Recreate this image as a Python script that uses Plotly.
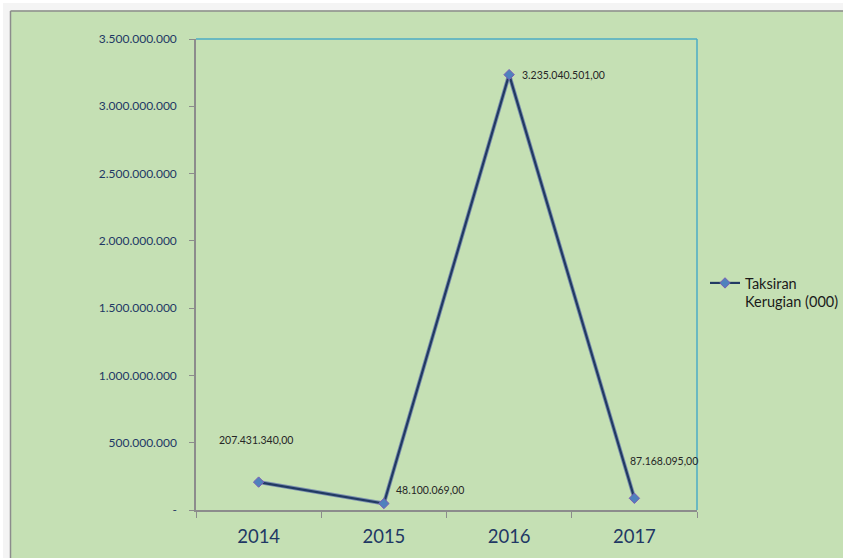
import plotly.graph_objects as go

# Estimated losses (in thousands) per year
years = ["2014", "2015", "2016", "2017"]
losses = [207431340.00, 48100069.00, 3235040501.00, 87168095.00]
series_name = "Taksiran<br>Kerugian (000)"

y_ticks = [0, 500000000, 1000000000, 1500000000, 2000000000, 2500000000, 3000000000, 3500000000]


def fmt_int(v):
    return "-" if v == 0 else f"{int(v):,}".replace(",", ".")


def fmt_dec(v):
    s = f"{v:,.2f}"
    return s.replace(",", "#").replace(".", ",").replace("#", ".")


W, H = 843, 558
L, R, T, B = 196, 146, 39, 48
pw, ph = W - L - R, H - T - B

GREEN = "#C5E0B4"
NAVY = "#1F3864"


def px(x):
    return (x - L) / pw


def py(y):
    return (H - B - y) / ph


fig = go.Figure()

# soft halo under the line
fig.add_trace(go.Scatter(
    x=years, y=losses, mode="lines",
    line=dict(color="#7A8FAE", width=4),
    showlegend=False, hoverinfo="skip",
))
fig.add_trace(go.Scatter(
    x=years, y=losses, mode="lines+markers", name=series_name,
    line=dict(color="#213A63", width=2.2),
    marker=dict(symbol="diamond", size=8, color="#4F81BD",
                line=dict(color="#7B5BB5", width=1)),
))

# data labels (x given as category index)
offsets = [(-42, 42), (10, 14), (11, 0), (-6, 37)]
for i, (v, (dx, dy)) in enumerate(zip(losses, offsets)):
    fig.add_annotation(
        x=i, y=v, xref="x", yref="y", text=fmt_dec(v), showarrow=False,
        xanchor="left", yanchor="middle", xshift=dx, yshift=dy,
        font=dict(family="Lato, sans-serif", size=10.5, color="#262626"),
    )

shapes = [
    # outer frame strips
    dict(type="rect", xref="paper", yref="paper", layer="below",
         x0=px(0), x1=px(W), y0=py(0), y1=py(10.5), fillcolor="#F4F4F4", line_width=0),
    dict(type="rect", xref="paper", yref="paper", layer="below",
         x0=px(0), x1=px(10.5), y0=py(0), y1=py(H), fillcolor="#F4F4F4", line_width=0),
    dict(type="rect", xref="paper", yref="paper", layer="below",
         x0=px(0), x1=px(W), y0=py(0), y1=py(3), fillcolor="white", line_width=0),
    dict(type="rect", xref="paper", yref="paper", layer="below",
         x0=px(0), x1=px(3), y0=py(0), y1=py(H), fillcolor="white", line_width=0),
    dict(type="line", xref="paper", yref="paper", layer="below",
         x0=px(10.5), x1=px(W), y0=py(11), y1=py(11), line=dict(color="#8C8C8C", width=1.5)),
    dict(type="line", xref="paper", yref="paper", layer="below",
         x0=px(10.5), x1=px(10.5), y0=py(11), y1=py(H), line=dict(color="#8C8C8C", width=1.5)),
    # plot area top and right border
    dict(type="line", xref="paper", yref="paper",
         x0=0, x1=1, y0=1, y1=1, line=dict(color="#4BACC6", width=1.5)),
    dict(type="line", xref="paper", yref="paper",
         x0=1, x1=1, y0=0, y1=1, line=dict(color="#4BACC6", width=1.5)),
]

fig.update_layout(
    width=W, height=H,
    margin=dict(l=L, r=R, t=T, b=B, autoexpand=False),
    paper_bgcolor=GREEN, plot_bgcolor=GREEN,
    shapes=shapes,
    legend=dict(
        x=px(705), y=py(267), xanchor="left", yanchor="top",
        bgcolor="rgba(0,0,0,0)", valign="top",
        font=dict(family="Lato, sans-serif", size=14.5, color="#1A1A1A"),
        itemwidth=30,
    ),
    xaxis=dict(
        type="category", range=[-0.5, 3.5],
        showgrid=False, zeroline=False,
        showline=True, linecolor="#8C8C8C", linewidth=1.5,
        ticks="outside", tickson="boundaries", ticklen=6, tickcolor="#8C8C8C",
        ticklabelstandoff=9,
        tickfont=dict(family="Lato, sans-serif", size=18.5, color=NAVY),
    ),
    yaxis=dict(
        range=[0, 3500000000],
        tickvals=y_ticks, ticktext=[fmt_int(v) for v in y_ticks],
        showgrid=False, zeroline=False,
        showline=True, linecolor="#8C8C8C", linewidth=1.5,
        ticks="outside", ticklen=5, tickcolor="#8C8C8C",
        ticklabelstandoff=10,
        tickfont=dict(family="Lato, sans-serif", size=12, color=NAVY),
    ),
    showlegend=True,
)

fig.write_html("out.html")
